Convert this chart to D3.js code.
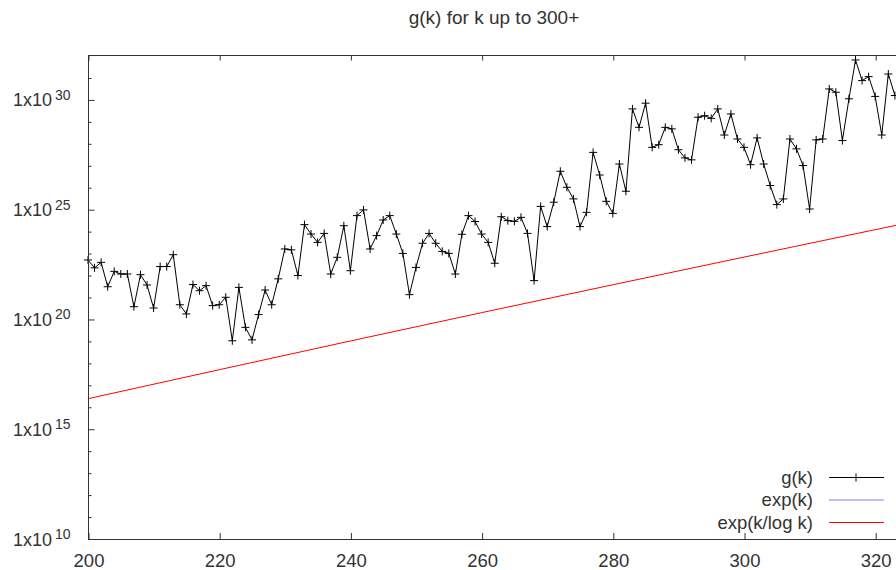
<!DOCTYPE html>
<html>
<head>
<meta charset="utf-8">
<script src="https://cdn.jsdelivr.net/npm/d3@7"></script>
<style>
  body { margin: 0; background: #fff; }
  svg { display: block; font-family: "Liberation Sans", Arial, sans-serif; }
</style>
</head>
<body>
<div id="chart"></div>
<script>
var width = 896, height = 570;

// k starts at 200, one value per integer k
var kStart = 200;
// log10 of g(k)
var gExp = [
  22.71, 22.35, 22.60, 21.49, 22.19, 22.07, 22.07, 20.58, 22.04, 21.57,
  20.52, 22.41, 22.41, 22.95, 20.67, 20.25, 21.59, 21.31, 21.54, 20.63,
  20.67, 21.01, 19.03, 21.46, 19.64, 19.07, 20.22, 21.34, 20.67, 21.85,
  23.21, 23.17, 22.00, 24.32, 23.89, 23.51, 23.92, 22.07, 22.83, 24.27,
  22.22, 24.73, 24.99, 23.21, 23.82, 24.53, 24.73, 23.89, 23.01, 21.13,
  22.37, 23.47, 23.92, 23.47, 23.10, 23.01, 22.07, 23.88, 24.73, 24.46,
  23.89, 23.51, 22.56, 24.68, 24.50, 24.47, 24.65, 23.92, 21.77, 25.15,
  24.23, 25.34, 26.75, 26.02, 25.49, 24.23, 24.88, 27.61, 26.58, 25.38,
  24.83, 27.08, 25.84, 29.59, 28.75, 29.85, 27.84, 27.96, 28.75, 28.68,
  27.73, 27.36, 27.27, 29.21, 29.28, 29.16, 29.59, 28.40, 29.36, 28.22,
  27.84, 27.05, 28.27, 27.08, 26.10, 25.23, 25.49, 28.22, 27.77, 27.01,
  25.03, 28.18, 28.22, 30.50, 30.35, 28.15, 30.05, 31.82, 30.88, 31.06,
  30.16, 28.40, 31.18, 30.20
];

// exp(k/log k) curve, log10 values read at a few k
var redK = [200, 220, 240, 260, 280, 300, 320, 330];
var redExp = [16.39, 17.71, 19.02, 20.31, 21.58, 22.84, 24.09, 24.71];

var xTicks = [200, 220, 240, 260, 280, 300, 320];
var yMajor = [10, 15, 20, 25, 30];
var yMinor = [11, 12, 13, 14, 16, 17, 18, 19, 21, 22, 23, 24, 26, 27, 28, 29, 31];

var legendItems = ["g(k)", "exp(k)", "exp(k/log k)"];
var legendColors = ["#000000", "#a070ff", "#ff0000"];

var margin = {left: 88, top: 56, bottom: 31};

var svg = d3.select("#chart")
  .append("svg")
  .attr("width", width)
  .attr("height", height);

var xScale = d3.scaleLinear()
  .domain([200, 330])
  .range([margin.left, margin.left + 130 * 6.56]);

var yScale = d3.scaleLog()
  .domain([1e10, 1e32])
  .range([height - margin.bottom, margin.top]);

var plotRight = xScale(330);
var plotBottom = height - margin.bottom;

// title
svg.append("text")
  .attr("x", 494)
  .attr("y", 24)
  .attr("text-anchor", "middle")
  .style("font-size", "19px")
  .style("fill", "#333")
  .text("g(k) for k up to 300+");

// Render red curve
var redLine = d3.line()
  .x((d, i) => xScale(d))
  .y((d, i) => yScale(Math.pow(10, redExp[i])));

svg.append("path")
  .datum(redK)
  .attr("d", redLine)
  .attr("fill", "none")
  .attr("stroke", "#ff0000")
  .attr("stroke-width", 1);

// Render g(k) line
var gLine = d3.line()
  .x((d, i) => xScale(kStart + i))
  .y(d => yScale(Math.pow(10, d)));

svg.append("path")
  .datum(gExp)
  .attr("d", gLine)
  .attr("fill", "none")
  .attr("stroke", "#000")
  .attr("stroke-width", 1);

// + markers
var marks = svg.append("g").attr("class", "marks");
gExp.forEach(function(d, i) {
  var cx = xScale(kStart + i), cy = yScale(Math.pow(10, d));
  marks.append("path")
    .attr("d", `M${cx - 4},${cy}H${cx + 4}M${cx},${cy - 4}V${cy + 4}`)
    .attr("stroke", "#000")
    .attr("stroke-width", 1);
});

// border
svg.append("rect")
  .attr("x", margin.left + 0.5)
  .attr("y", margin.top - 0.5)
  .attr("width", plotRight - margin.left)
  .attr("height", plotBottom - margin.top + 1)
  .attr("fill", "none")
  .attr("stroke", "#333")
  .attr("stroke-width", 1);

// X axis (bottom), ticks inside
var xAxis = d3.axisBottom(xScale)
  .tickValues(xTicks)
  .tickSizeInner(-6)
  .tickSizeOuter(0)
  .tickFormat(d => d);

svg.append("g")
  .attr("transform", `translate(0.5,${plotBottom})`)
  .call(xAxis)
  .call(g => g.select(".domain").remove())
  .call(g => g.selectAll("line").attr("stroke", "#333"))
  .selectAll("text")
  .attr("y", 28)
  .attr("dy", null)
  .style("fill", "#333")
  .style("font-size", "18.5px")
  .style("font-family", "Liberation Sans, Arial, sans-serif");

// mirrored top ticks
svg.append("g")
  .attr("transform", `translate(0.5,${margin.top - 0.5})`)
  .call(d3.axisTop(xScale).tickValues(xTicks).tickSizeInner(-5).tickSizeOuter(0).tickFormat(""))
  .call(g => g.select(".domain").remove())
  .call(g => g.selectAll("line").attr("stroke", "#333"));

// Y axis major ticks
var yAxis = d3.axisLeft(yScale)
  .tickValues(yMajor.map(e => Math.pow(10, e)))
  .tickSizeInner(-6)
  .tickSizeOuter(0)
  .tickFormat("");

svg.append("g")
  .attr("transform", `translate(${margin.left + 0.5},0)`)
  .call(yAxis)
  .call(g => g.select(".domain").remove())
  .call(g => g.selectAll("line").attr("stroke", "#333"));

// Y axis minor ticks
svg.append("g")
  .attr("transform", `translate(${margin.left + 0.5},0)`)
  .call(d3.axisLeft(yScale).tickValues(yMinor.map(e => Math.pow(10, e))).tickSizeInner(-3).tickSizeOuter(0).tickFormat(""))
  .call(g => g.select(".domain").remove())
  .call(g => g.selectAll("line").attr("stroke", "#333"));

// Y labels 1x10^n
var yLabels = svg.append("g").attr("class", "y-labels");
yMajor.forEach(function(e) {
  var y = yScale(Math.pow(10, e));
  yLabels.append("text")
    .attr("x", 52)
    .attr("y", y + 6.5)
    .attr("text-anchor", "end")
    .style("font-size", "18px")
    .style("fill", "#333")
    .text("1x10");
  yLabels.append("text")
    .attr("x", 55)
    .attr("y", y)
    .attr("text-anchor", "start")
    .style("font-size", "14px")
    .style("fill", "#333")
    .text(e);
});

// Legend
var legend = svg.append("g").attr("class", "legend");
legendItems.forEach(function(name, i) {
  var ly = 477 + i * 22.5;
  legend.append("text")
    .attr("x", 813)
    .attr("y", ly + 6.5)
    .attr("text-anchor", "end")
    .style("font-size", "18.5px")
    .style("fill", "#333")
    .text(name);
  legend.append("line")
    .attr("x1", 829)
    .attr("x2", 884)
    .attr("y1", ly + 0.5)
    .attr("y2", ly + 0.5)
    .attr("stroke", legendColors[i])
    .attr("stroke-width", 1);
  if (i === 0) {
    legend.append("path")
      .attr("d", `M852,${ly + 0.5}H860M856,${ly - 3.5}V${ly + 4.5}`)
      .attr("stroke", "#000");
  }
});
</script>
</body>
</html>
